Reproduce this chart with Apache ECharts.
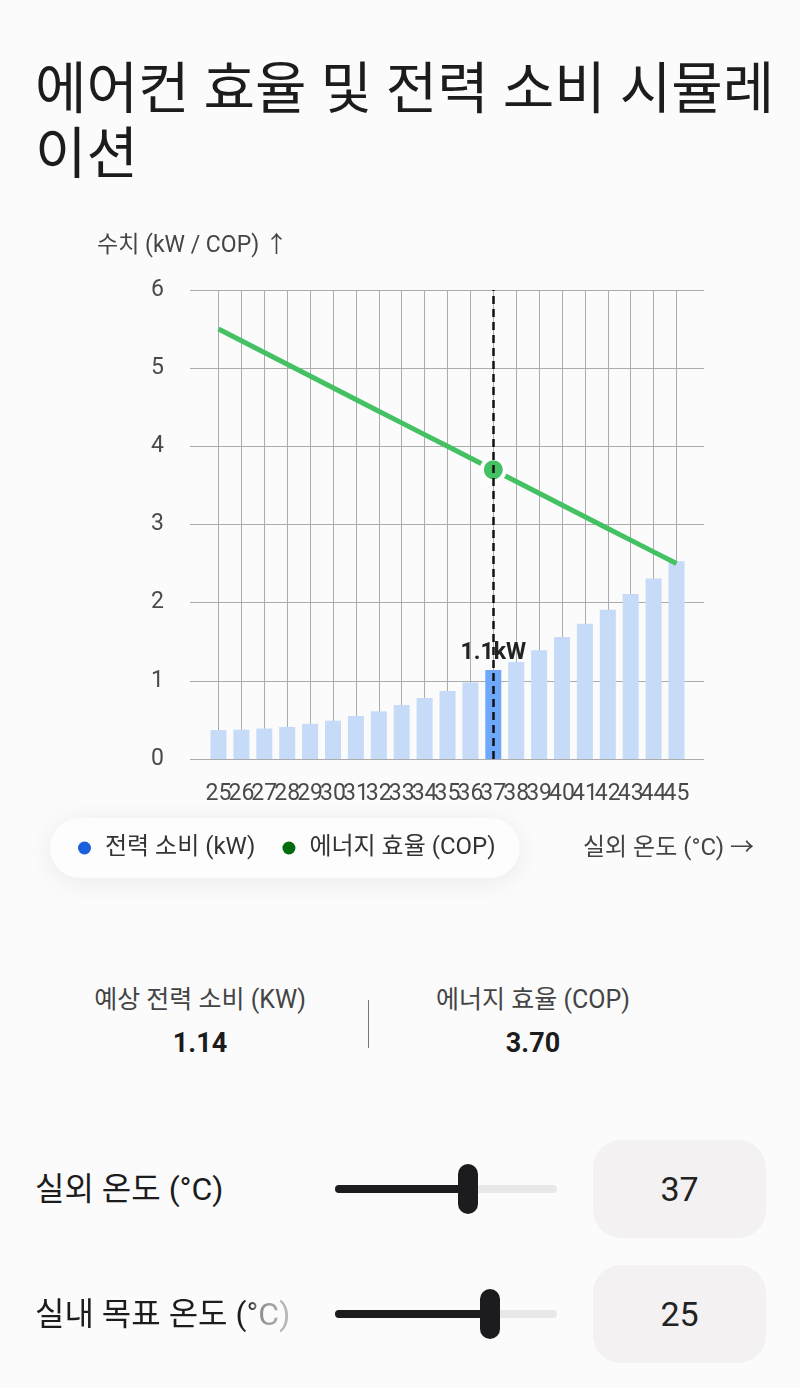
<!DOCTYPE html>
<html lang="ko">
<head>
<meta charset="utf-8">
<script src="https://cdn.jsdelivr.net/npm/echarts@6/dist/echarts.min.js"></script>
<style>
  html, body { margin: 0; padding: 0; background: #fbfbfb; }
  body { width: 800px; height: 1388px; position: relative; overflow: hidden;
         font-family: Roboto, "Noto Sans CJK KR", sans-serif; color: #1c1c1c; }
  #title { position: absolute; left: 35px; top: 57px; width: 745px; font-size: 56px;
           line-height: 65px; word-break: break-all; font-weight: 400; z-index: 2; }
  #chart { position: absolute; left: 0; top: 0; width: 800px; height: 900px; }
  .stat { position: absolute; width: 300px; text-align: center; }
  .stat .lab { font-size: 25px; line-height: 28px; color: #444; }
  .stat .val { font-size: 27px; line-height: 34px; font-weight: 700; color: #1c1c1c; margin-top: 12px; }
  #divider { position: absolute; left: 368px; top: 1000px; width: 1px; height: 48px; background: #777; }
  .row { position: absolute; left: 0; width: 800px; height: 98px; }
  .row .lab { position: absolute; left: 35px; top: 0; height: 98px; line-height: 98px;
              font-size: 32px; color: #1c1c1c; white-space: nowrap; }
  .row .track { position: absolute; left: 335px; width: 222px; top: 45px; height: 8px;
                border-radius: 4px; background: #e8e8e8; }
  .row .fill { position: absolute; left: 0; top: 0; height: 8px; border-radius: 4px; background: #1c1c1e; }
  .row .thumb { position: absolute; top: -21px; width: 20px; height: 50px; margin-left: -10px;
                border-radius: 10px; background: #1c1c1e; }
  .row .box { position: absolute; left: 593px; top: 0; width: 173px; height: 98px;
              border-radius: 28px; background: #f3f1f1; text-align: center; line-height: 98px;
              font-size: 34px; color: #222; }
  .fade { -webkit-mask-image: linear-gradient(to right, #000 0, #000 213px, rgba(0,0,0,.5) 224px, rgba(0,0,0,.25) 258px);
          mask-image: linear-gradient(to right, #000 0, #000 213px, rgba(0,0,0,.5) 224px, rgba(0,0,0,.25) 258px); }
</style>
</head>
<body>
<div id="title">에어컨 효율 및 전력 소비 시뮬레이션</div>
<div id="chart"></div>

<div class="stat" style="left:50px; top:986px;">
  <div class="lab">예상 전력 소비 (KW)</div>
  <div class="val" id="powerVal"></div>
</div>
<div id="divider"></div>
<div class="stat" style="left:383px; top:986px;">
  <div class="lab">에너지 효율 (COP)</div>
  <div class="val" id="copVal"></div>
</div>

<div class="row" style="top:1140px;">
  <div class="lab">실외 온도 (°C)</div>
  <div class="track"><div class="fill" id="fill1"></div><div class="thumb" id="thumb1"></div></div>
  <div class="box" id="box1"></div>
</div>
<div class="row" style="top:1265px;">
  <div class="lab fade">실내 목표 온도 (°C)</div>
  <div class="track"><div class="fill" id="fill2"></div><div class="thumb" id="thumb2"></div></div>
  <div class="box" id="box2"></div>
</div>

<script>
// 실외 온도 (°C)
const temps = ['25', '26', '27', '28', '29', '30', '31', '32', '33', '34', '35',
               '36', '37', '38', '39', '40', '41', '42', '43', '44', '45'];
// 전력 소비 (kW)
const power = [0.37, 0.375, 0.39, 0.41, 0.45, 0.49, 0.55, 0.61, 0.69, 0.78, 0.87,
               0.98, 1.14, 1.24, 1.39, 1.56, 1.73, 1.91, 2.11, 2.31, 2.53];
// 에너지 효율 (COP)
const cop = [5.50, 5.35, 5.20, 5.05, 4.90, 4.75, 4.60, 4.45, 4.30, 4.15, 4.00,
             3.85, 3.70, 3.55, 3.40, 3.25, 3.10, 2.95, 2.80, 2.65, 2.50];
const yTicks = [0, 6, 1];          // min, max, interval
const outdoorTemp = 37;
const outdoorRange = [25, 45];
const indoorTemp = 25;
const indoorRange = [18, 28];

const sel = temps.indexOf(String(outdoorTemp));

// 상단 수치 / 슬라이더
document.getElementById('powerVal').textContent = power[sel].toFixed(2);
document.getElementById('copVal').textContent = cop[sel].toFixed(2);

function setSlider(n, v, range) {
    let p = (v - range[0]) / (range[1] - range[0]) * 100;
    document.getElementById('fill' + n).style.width = p + '%';
    document.getElementById('thumb' + n).style.left = p + '%';
    document.getElementById('box' + n).textContent = v;
}
setSlider(1, outdoorTemp, outdoorRange);
setSlider(2, indoorTemp, indoorRange);

let myChart = echarts.init(document.getElementById('chart'));

const gridLine = { color: '#acacac', width: 1 };
const font = 'Roboto, "Noto Sans CJK KR", sans-serif';

let option = {
    textStyle: { fontFamily: font },
    grid: [
        { left: 190, right: 96, top: 290, height: 469 },
        { left: 218.5, right: 123.5, top: 290, height: 469 }
    ],
    xAxis: [
        { gridIndex: 0, type: 'value', min: 0, max: 1, show: false },
        {
            gridIndex: 1, type: 'category', data: temps, boundaryGap: false,
            axisLine: { show: false }, axisTick: { show: false },
            axisLabel: { interval: 0, fontSize: 23, color: '#4a4a4a', margin: 24, fontFamily: font },
            splitLine: { show: true, interval: 0, lineStyle: gridLine }
        }
    ],
    yAxis: [
        {
            gridIndex: 0, type: 'value', min: yTicks[0], max: yTicks[1], interval: yTicks[2],
            axisLine: { show: false }, axisTick: { show: false },
            axisLabel: { fontSize: 23, color: '#4a4a4a', margin: 26, fontFamily: font },
            splitLine: { lineStyle: gridLine }
        },
        { gridIndex: 1, type: 'value', min: yTicks[0], max: yTicks[1], interval: yTicks[2], show: false }
    ],
    legend: {
        left: 50, top: 818,
        icon: 'circle', itemWidth: 13, itemHeight: 13, itemGap: 27,
        padding: [18, 24, 18, 28],
        backgroundColor: '#fdfdfd', borderRadius: 30,
        shadowBlur: 26, shadowColor: 'rgba(0,0,0,0.07)', shadowOffsetY: 4,
        textStyle: { fontSize: 24, color: '#333', padding: [0, 0, 0, 9], fontFamily: font },
        data: [
            { name: '전력 소비 (kW)', itemStyle: { color: '#1a5fdc' } },
            { name: '에너지 효율 (COP)', itemStyle: { color: '#006b0b' } }
        ]
    },
    graphic: [
        { type: 'text', left: 97, top: 235, style: { text: '수치 (kW / COP) ↑', fill: '#444', font: '23px ' + font } },
        { type: 'text', left: 583, top: 837, style: { text: '실외 온도 (°C) →', fill: '#444', font: '24px ' + font } }
    ],
    series: [
        {
            name: '전력 소비 (kW)', type: 'bar', xAxisIndex: 1, yAxisIndex: 1,
            barWidth: 16, clip: false, z: 2,
            itemStyle: { color: '#c6dbf8' },
            data: power.map((v, i) => i === sel ? {
                value: v,
                itemStyle: { color: '#6fa8fb' },
                label: {
                    show: true, position: 'top', distance: 5,
                    formatter: p => p.value.toFixed(1) + 'kW',
                    fontSize: 23, fontWeight: 'bold', color: '#222', fontFamily: font
                }
            } : v),
            markLine: {
                silent: true, symbol: 'none', label: { show: false },
                lineStyle: { color: '#111', type: [8, 5], width: 2.5 },
                data: [{ xAxis: temps[sel] }]
            }
        },
        {
            name: '에너지 효율 (COP)', type: 'line', xAxisIndex: 1, yAxisIndex: 1,
            z: 3, symbol: 'none', showAllSymbol: true,
            lineStyle: { color: '#44c163', width: 5 },
            itemStyle: { color: '#44c163' },
            data: cop.map((v, i) => i === sel ? {
                value: v, symbol: 'circle', symbolSize: 23,
                itemStyle: { color: '#44c163', borderColor: '#fff', borderWidth: 4 }
            } : v)
        }
    ]
};

option && myChart.setOption(option);
</script>
</body>
</html>
